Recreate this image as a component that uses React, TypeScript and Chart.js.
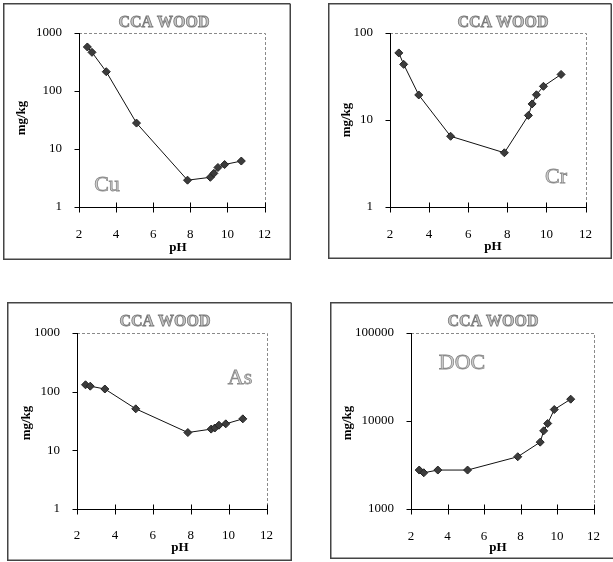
import React, { useEffect, useRef } from "react";
import { Chart, registerables } from "chart.js";

Chart.register(...registerables);

// ---- data ----
const phValues = [2.45, 2.7, 3.47, 5.1, 7.85, 9.08, 9.27, 9.49, 9.85, 10.75];
const cuValues = [574, 464, 215, 28, 2.9, 3.25, 3.8, 4.8, 5.4, 6.2];
const crValues = [59, 43.6, 19.4, 6.5, 4.2, 11.3, 15.3, 19.5, 24.4, 33.4];
const asValues = [131, 124, 111, 51, 20.1, 23, 24, 26.8, 28.3, 34.4];
const docValues = [2770, 2580, 2770, 2770, 3925, 5750, 7730, 9370, 13500, 17700];

const xTicks = [2, 4, 6, 8, 10, 12];
const cuTicks = [1, 10, 100, 1000];
const crTicks = [1, 10, 100];
const asTicks = [1, 10, 100, 1000];
const docTicks = [1000, 10000, 100000];

const chartTitle = "CCA WOOD";
const xTitle = "pH";
const yTitle = "mg/kg";
const seriesNames = ["Cu", "Cr", "As", "DOC"];

const FONT = '"Liberation Serif", "Times New Roman", serif';

// ---- layout (page coordinates) ----
type Layout = {
  box: { x: number; y: number; w: number; h: number };
  plot: { l: number; t: number; r: number; b: number };
  title: [number, number];
  label: [number, number];
  xt: [number, number];
  yt: [number, number];
  xPad: number;
  hideRight?: boolean;
};

const layouts: Layout[] = [
  { box: { x: 3, y: 3, w: 288, h: 257 }, plot: { l: 79, t: 33, r: 278, b: 207 }, title: [164, 23], label: [107, 185], xt: [178, 248], yt: [22, 118], xPad: 20 },
  { box: { x: 328, y: 3, w: 284, h: 256 }, plot: { l: 390, t: 33, r: 600, b: 207 }, title: [503, 23], label: [556, 177], xt: [493, 247], yt: [347, 120], xPad: 20 },
  { box: { x: 7, y: 302, w: 285, h: 259 }, plot: { l: 77, t: 333, r: 283, b: 509 }, title: [165, 322], label: [240, 378], xt: [180, 548], yt: [27, 423], xPad: 19 },
  { box: { x: 330, y: 302, w: 290, h: 257 }, plot: { l: 411, t: 333, r: 601, b: 509 }, title: [493, 322], label: [462, 363], xt: [498, 548], yt: [348, 423], xPad: 20, hideRight: true },
];

const seriesList = [cuValues, crValues, asValues, docValues];
const tickList = [cuTicks, crTicks, asTicks, docTicks];

function makeConfig(idx: number): any {
  const L = layouts[idx];
  const values = seriesList[idx];
  const yT = tickList[idx];
  const ox = L.box.x;
  const oy = L.box.y;

  const decor = {
    id: "decor" + idx,
    afterDraw(chart: any) {
      const ctx = chart.ctx as CanvasRenderingContext2D;
      const { left, top, right, bottom } = chart.chartArea;
      const xs = chart.scales.x;
      const ys = chart.scales.y;
      ctx.save();
      // dashed top/right frame
      ctx.strokeStyle = "#8a8a8a";
      ctx.lineWidth = 1;
      ctx.setLineDash([3, 2]);
      ctx.beginPath();
      ctx.moveTo(left, Math.round(top) + 0.5);
      ctx.lineTo(Math.round(right) + 0.5, Math.round(top) + 0.5);
      ctx.lineTo(Math.round(right) + 0.5, bottom);
      ctx.stroke();
      ctx.setLineDash([]);
      // axes
      ctx.strokeStyle = "#000";
      ctx.beginPath();
      const lx = Math.round(left) + 0.5;
      const by = Math.round(bottom) + 0.5;
      ctx.moveTo(lx, top);
      ctx.lineTo(lx, by);
      ctx.lineTo(right + 1, by);
      for (const v of xTicks) {
        const px = Math.round(xs.getPixelForValue(v)) + 0.5;
        ctx.moveTo(px, by - 5);
        ctx.lineTo(px, by + 5);
      }
      for (const v of yT) {
        const py = Math.round(ys.getPixelForValue(v)) + 0.5;
        ctx.moveTo(lx - 5, py);
        ctx.lineTo(lx, py);
      }
      ctx.stroke();
      // panel border
      ctx.strokeStyle = "#444";
      ctx.lineWidth = 1.5;
      const w = chart.width;
      const h = chart.height;
      ctx.beginPath();
      ctx.moveTo(w - 0.75, 0.75);
      ctx.lineTo(0.75, 0.75);
      ctx.lineTo(0.75, h - 0.75);
      ctx.lineTo(w - 0.75, h - 0.75);
      if (!L.hideRight) ctx.lineTo(w - 0.75, 0.75);
      ctx.stroke();
      // chart title
      ctx.textAlign = "center";
      ctx.textBaseline = "middle";
      ctx.font = "bold 16px " + FONT;
      ctx.fillStyle = "#c4c4c4";
      ctx.strokeStyle = "#7a7a7a";
      ctx.lineWidth = 0.8;
      ctx.fillText(chartTitle, L.title[0] - ox, L.title[1] - oy);
      ctx.strokeText(chartTitle, L.title[0] - ox, L.title[1] - oy);
      // series label
      ctx.font = "22px " + FONT;
      ctx.fillStyle = "#cfcfcf";
      ctx.strokeStyle = "#8a8a8a";
      ctx.lineWidth = 0.8;
      ctx.fillText(seriesNames[idx], L.label[0] - ox, L.label[1] - oy);
      ctx.strokeText(seriesNames[idx], L.label[0] - ox, L.label[1] - oy);
      // axis titles
      ctx.fillStyle = "#000";
      ctx.font = "bold 13px " + FONT;
      ctx.fillText(xTitle, L.xt[0] - ox, L.xt[1] - oy);
      ctx.translate(L.yt[0] - ox, L.yt[1] - oy);
      ctx.rotate(-Math.PI / 2);
      ctx.fillText(yTitle, 0, 0);
      ctx.restore();
    },
  };

  return {
    type: "line",
    data: {
      datasets: [
        {
          data: phValues.map((x, i) => ({ x, y: values[i] })),
          borderColor: "#111",
          borderWidth: 1,
          pointStyle: "rectRot",
          pointRadius: 4,
          pointBackgroundColor: "#3c3c3c",
          pointBorderColor: "#222",
          pointBorderWidth: 1,
          tension: 0,
          fill: false,
        },
      ],
    },
    options: {
      responsive: false,
      animation: false,
      devicePixelRatio: 1,
      layout: {
        padding: {
          top: L.plot.t - oy,
          right: ox + L.box.w - L.plot.r,
          bottom: 0,
          left: 0,
        },
      },
      plugins: {
        legend: { display: false },
        tooltip: { enabled: false },
        title: { display: false },
      },
      scales: {
        x: {
          type: "linear",
          min: xTicks[0],
          max: xTicks[xTicks.length - 1],
          afterBuildTicks: (s: any) => {
            s.ticks = xTicks.map((v) => ({ value: v }));
          },
          ticks: {
            callback: (v: any) => String(v),
            font: { family: FONT, size: 13 },
            color: "#000",
            padding: L.xPad,
            maxRotation: 0,
            autoSkip: false,
          },
          grid: { display: false, drawTicks: false },
          border: { display: false },
          afterFit: (s: any) => {
            s.height = oy + L.box.h - L.plot.b;
          },
        },
        y: {
          type: "logarithmic",
          min: yT[0],
          max: yT[yT.length - 1],
          afterBuildTicks: (s: any) => {
            s.ticks = yT.map((v) => ({ value: v }));
          },
          ticks: {
            callback: (v: any) => String(v),
            font: { family: FONT, size: 13 },
            color: "#000",
            padding: 17,
            autoSkip: false,
          },
          grid: { display: false, drawTicks: false },
          border: { display: false },
          afterFit: (s: any) => {
            s.width = L.plot.l - ox;
          },
        },
      },
    },
    plugins: [decor],
  };
}

function Panel({ idx }: { idx: number }) {
  const ref = useRef<HTMLCanvasElement | null>(null);
  const L = layouts[idx];
  useEffect(() => {
    if (!ref.current) return;
    const chart = new Chart(ref.current, makeConfig(idx));
    return () => chart.destroy();
  }, [idx]);
  return (
    <canvas
      ref={ref}
      width={L.box.w}
      height={L.box.h}
      style={{
        position: "absolute",
        left: L.box.x,
        top: L.box.y,
        width: L.box.w,
        height: L.box.h,
        display: "block",
      }}
    />
  );
}

export default function App() {
  return (
    <div
      style={{
        position: "fixed",
        left: 0,
        top: 0,
        width: 613,
        height: 562,
        overflow: "hidden",
        background: "#fff",
      }}
    >
      {layouts.map((_, i) => (
        <Panel key={i} idx={i} />
      ))}
    </div>
  );
}
